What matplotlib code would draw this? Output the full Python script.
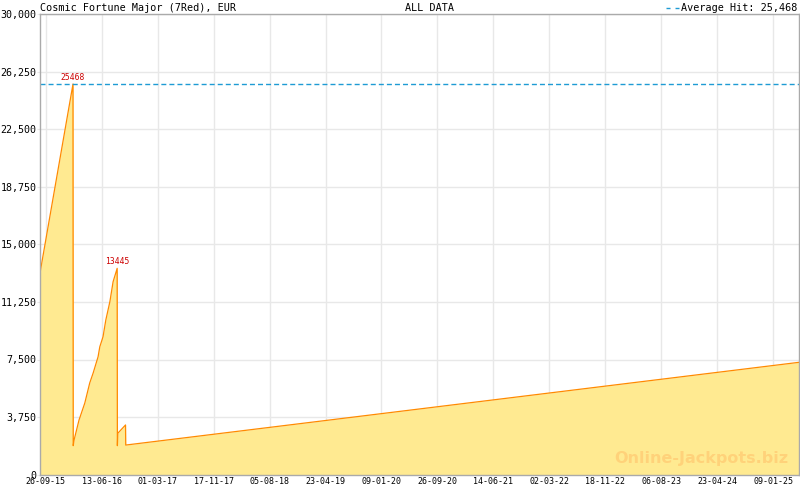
import matplotlib
matplotlib.use("Agg")
import matplotlib.pyplot as plt
import matplotlib.dates as mdates
from matplotlib.lines import Line2D
import datetime as dt

# ---- data ----
dates = ["2015-08-30", "2016-01-31", "2016-02-01", "2016-02-05", "2016-02-28",
         "2016-03-26", "2016-04-18", "2016-05-04", "2016-05-27", "2016-06-04",
         "2016-06-19", "2016-07-02", "2016-07-21", "2016-08-05", "2016-08-24",
         "2016-08-25", "2016-08-27", "2016-10-02", "2016-10-03", "2025-05-10"]
values = [13140, 25468, 1880, 2250, 3550,
          4660, 5970, 6620, 7680, 8330,
          8980, 10070, 11270, 12570, 13445,
          1880, 2690, 3230, 1920, 7316]
peak_dates = ["2016-01-31", "2016-08-24"]
peak_values = [25468, 13445]
average_hit = 25468
title_left = "Cosmic Fortune Major (7Red), EUR"
title_mid = "ALL DATA"
legend_text = "Average Hit: 25,468"
tick_start = "2015-09-26"
tick_step_days = 261
n_ticks = 14
y_ticks = [0, 3750, 7500, 11250, 15000, 18750, 22500, 26250, 30000]

x = [dt.datetime.strptime(d, "%Y-%m-%d") for d in dates]
px = [dt.datetime.strptime(d, "%Y-%m-%d") for d in peak_dates]
t0 = dt.datetime.strptime(tick_start, "%Y-%m-%d")
major = [t0 + dt.timedelta(days=tick_step_days * i) for i in range(n_ticks)]
minor = [t0 + dt.timedelta(days=tick_step_days * i / 7) for i in range(-1, n_ticks * 7 + 4)]
minor = [m for m in minor if x[0] <= m <= x[-1]]

fig = plt.figure(figsize=(8, 4.9), dpi=100)
ax = fig.add_axes([40 / 800, 1 - 474.5 / 490, 759 / 800, 460 / 490])

mono = "DejaVu Sans Mono"
line_col = "#FF8A00"
fill_col = "#FFEA91"
avg_col = "#1E9BD4"
grid_col = "#E8E8E8"
spine_col = "#AAAAAA"
dash = (0, (3.6, 2.2))

ax.fill_between(x, values, 0, color=fill_col, linewidth=0, zorder=2)
ax.plot(x, values, color=line_col, linewidth=0.9, zorder=3)
ax.axhline(average_hit, color=avg_col, linestyle=dash, linewidth=1.0, zorder=4)

for d, v in zip(px, peak_values):
    ax.annotate(str(v), (mdates.date2num(d), v), xytext=(0, 1.5), textcoords="offset points",
                ha="center", va="bottom", fontsize=5.8, color="#CC0000", family=mono, zorder=5)

ax.set_xticks(major)
ax.set_xticks(minor, minor=True)
ax.set_xticklabels([d.strftime("%d-%m-%y") for d in major], fontsize=6, family=mono)
ax.set_yticks(y_ticks)
ax.set_yticklabels([f"{v:,}" for v in y_ticks], fontsize=7.2, family=mono)
ax.set_xlim(x[0], x[-1])
ax.set_ylim(0, 30000)
ax.grid(True, which="major", color=grid_col, linewidth=1.0, zorder=0)
ax.set_axisbelow(True)
ax.tick_params(axis="x", which="major", direction="in", length=6, color=spine_col, pad=2)
ax.tick_params(axis="x", which="minor", direction="in", length=3, color=spine_col)
ax.tick_params(axis="y", which="major", direction="out", length=2, color=grid_col, pad=0.5)
for s in ax.spines.values():
    s.set_color(spine_col)
    s.set_linewidth(1.0)
    s.set_zorder(6)

fig.text(40 / 800, 1 - 8 / 490, title_left, fontsize=7.3, family=mono, ha="left", va="center")
fig.text(405 / 800, 1 - 8 / 490, title_mid, fontsize=7.3, family=mono, ha="left", va="center")
fig.text(797 / 800, 1 - 8 / 490, legend_text, fontsize=7.3, family=mono, ha="right", va="center")
fig.add_artist(Line2D([666 / 800, 679 / 800], [1 - 8 / 490, 1 - 8 / 490], color=avg_col,
                      linestyle=(0, (2.9, 3.6)), linewidth=1.0, transform=fig.transFigure))

fig.text(788 / 800, 1 - 458 / 490, "Online-Jackpots.biz", fontsize=11.5, fontweight="bold",
         family="DejaVu Sans", color="#FFD27A", ha="right", va="center", zorder=10)

fig.savefig("out.png", dpi=100)
